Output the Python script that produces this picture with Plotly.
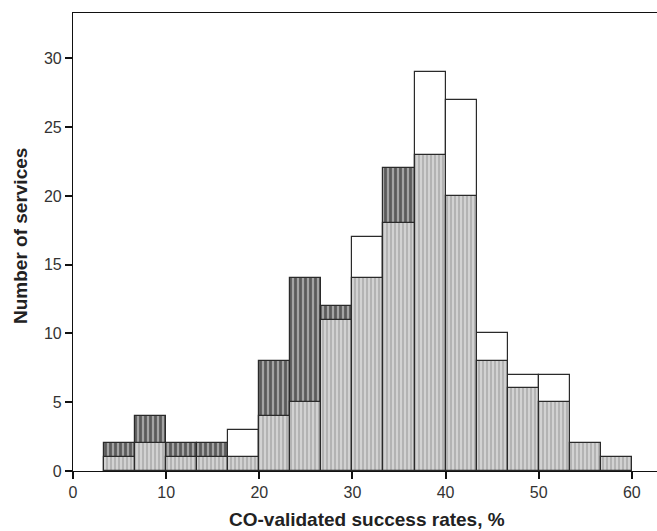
import plotly.graph_objects as go

bin_width = 10 / 3
bin_left_edges = [bin_width * k for k in range(1, 18)]
bin_centers = [e + bin_width / 2 for e in bin_left_edges]

# back bars (white, outlined)
white_counts = [None, None, None, None, 3, None, None, None, 17, None, 29, 27, 10, 7, 7, None, None]
# back bars (dark hatched)
dark_counts = [2, 4, 2, 2, None, 8, 14, 12, None, 22, None, None, None, None, None, None, None]
# front bars (light hatched)
light_counts = [1, 2, 1, 1, 1, 4, 5, 11, 14, 18, 23, 20, 8, 6, 5, 2, 1]

x_ticks = [0, 10, 20, 30, 40, 50, 60]
y_ticks = [0, 5, 10, 15, 20, 25, 30]

x_title = "CO-validated success rates, %"
y_title = "Number of services"

line = dict(color="#2a2a2a", width=1.2)

fig = go.Figure()
fig.add_trace(go.Bar(x=bin_centers, y=white_counts, width=bin_width,
                     marker=dict(color="white", line=line), showlegend=False))
fig.add_trace(go.Bar(x=bin_centers, y=dark_counts, width=bin_width,
                     marker=dict(color="#a4a4a4", line=line,
                                 pattern=dict(shape="|", fgcolor="#111111", bgcolor="#a4a4a4",
                                              size=5, solidity=0.55)),
                     showlegend=False))
fig.add_trace(go.Bar(x=bin_centers, y=light_counts, width=bin_width,
                     marker=dict(color="#d2d2d2", line=line,
                                 pattern=dict(shape="|", fgcolor="#8e8e8e", bgcolor="#d2d2d2",
                                              size=4, solidity=0.45)),
                     showlegend=False))

font_family = "Liberation Sans, Arial, sans-serif"
fig.update_layout(
    width=657, height=531,
    margin=dict(l=73, r=0, t=13, b=60, autoexpand=False),
    barmode="overlay", bargap=0,
    plot_bgcolor="white", paper_bgcolor="white",
    font=dict(family=font_family, size=16, color="#333"),
    xaxis=dict(range=[0, 62.7], tickvals=x_ticks, ticks="outside", ticklen=7, tickwidth=1.5,
               tickcolor="#111", showline=True, linecolor="#111", linewidth=1.2, mirror=True,
               showgrid=False, zeroline=False, automargin=False),
    yaxis=dict(range=[0, 33.3], tickvals=y_ticks, ticks="outside", ticklen=7, tickwidth=1.5,
               tickcolor="#111", showline=True, linecolor="#111", linewidth=1.2,
               showgrid=False, zeroline=False, automargin=False),
    annotations=[
        dict(text="<b>" + x_title + "</b>", xref="paper", yref="paper", x=0.503, y=-0.106,
             xanchor="center", yanchor="middle", showarrow=False,
             font=dict(size=19, color="#222")),
        dict(text="<b>" + y_title + "</b>", xref="paper", yref="paper", x=-0.0908, y=0.513,
             xanchor="center", yanchor="middle", textangle=-90, showarrow=False,
             font=dict(size=19, color="#222")),
    ],
)

fig.write_html("out.html", config={"displayModeBar": False},
               post_script="document.body.style.margin='0';document.body.style.overflow='hidden';")
